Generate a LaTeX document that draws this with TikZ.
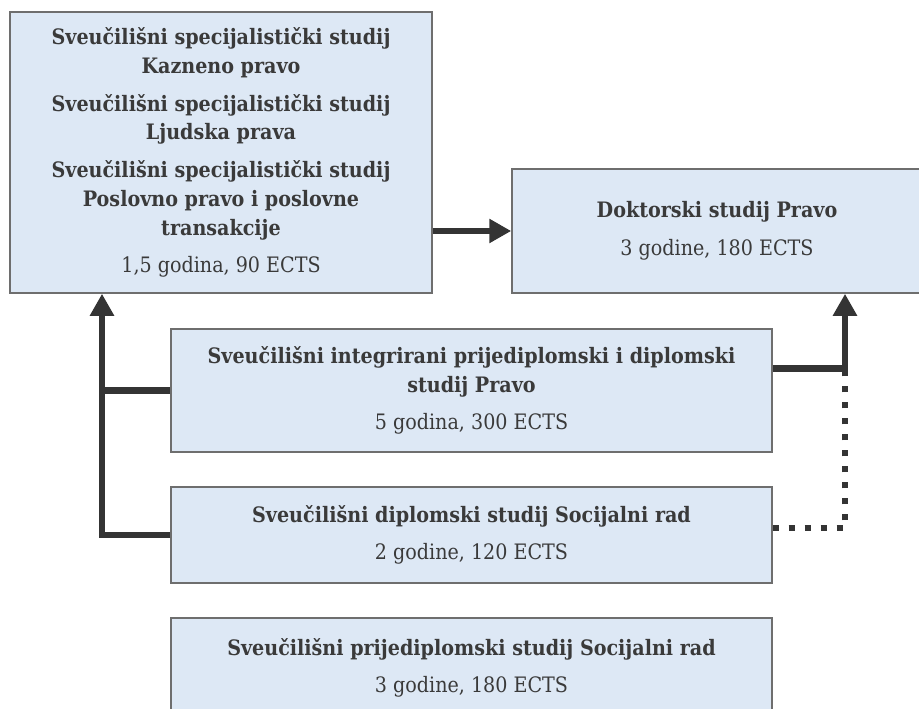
\documentclass[tikz,border=0pt]{standalone}
\usepackage{fontspec}
\setmainfont{DejaVu Serif Condensed}
\usetikzlibrary{arrows.meta}
\usetikzlibrary{calc,positioning}

\definecolor{boxfill}{RGB}{221,232,245}
\definecolor{boxline}{RGB}{110,110,110}
\definecolor{linkgray}{RGB}{52,52,52}
\definecolor{txtgray}{RGB}{58,58,58}

\tikzset{
    studybox/.style={draw=boxline, line width=0.9pt, fill=boxfill, align=center,
        text=txtgray, font=\fontsize{12.1}{16.4}\selectfont, inner sep=0pt},
    link/.style={draw=linkgray, line width=3.6pt},
    linkarrow/.style={link, -{Triangle[length=0.44cm, width=0.46cm]}},
    linkdots/.style={draw=linkgray, line width=3.6pt, dash pattern=on 0.12cm off 0.2cm}
}

\begin{document}
\begin{tikzpicture}[x=0.02cm, y=-0.02cm]

    \useasboundingbox (0,0) rectangle (919,709);
    \clip (0,0) rectangle (919,709);

    % boxes
    \node[studybox, minimum width=8.44cm, minimum height=5.62cm] (spec) at (221,152.5)
        {\textbf{Sveučilišni specijalistički studij}\\ \textbf{Kazneno pravo}\\[5pt]
         \textbf{Sveučilišni specijalistički studij}\\ \textbf{Ljudska prava}\\[5pt]
         \textbf{Sveučilišni specijalistički studij}\\ \textbf{Poslovno pravo i poslovne}\\ \textbf{transakcije}\\[5pt]
         1,5 godina, 90 ECTS};
    \node[studybox, minimum width=8.2cm, minimum height=2.48cm] (dok) at (717,231)
        {\textbf{Doktorski studij Pravo}\\[5pt] 3 godine, 180 ECTS};
    \node[studybox, minimum width=12.02cm, minimum height=2.46cm] (integ) at (471.5,390.5)
        {\textbf{Sveučilišni integrirani prijediplomski i diplomski}\\ \textbf{studij Pravo}\\[5pt] 5 godina, 300 ECTS};
    \node[studybox, minimum width=12.02cm, minimum height=1.92cm] (dipl) at (471.5,535)
        {\textbf{Sveučilišni diplomski studij Socijalni rad}\\[5pt] 2 godine, 120 ECTS};
    \node[studybox, minimum width=12.02cm, minimum height=2cm] (prij) at (471.5,668)
        {\textbf{Sveučilišni prijediplomski studij Socijalni rad}\\[5pt] 3 godine, 180 ECTS};

    \coordinate (lx) at (102,0);
    \coordinate (rx) at (845,0);

    % connectors
    \draw[linkarrow] (spec.east |- dok.west) -- (dok.west);
    \draw[linkarrow] (dipl.west) -- (dipl.west -| lx) -- (lx |- spec.south);
    \draw[link] (integ.west) -- (integ.west -| lx);
    \draw[linkarrow] ([yshift=0.44cm]integ.east) -| (rx |- dok.south);
    \draw[linkdots] ([yshift=0.14cm]dipl.east) -| ([yshift=0.44cm]integ.east -| rx);

\end{tikzpicture}
\end{document}
